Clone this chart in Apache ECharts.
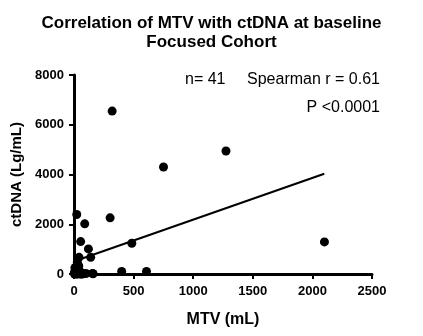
<!DOCTYPE html>
<html>
<head>
<meta charset="utf-8">
<script src="https://cdn.jsdelivr.net/npm/echarts@6/dist/echarts.min.js"></script>
<style>
  html, body { margin: 0; padding: 0; background: #fff; }
  #chart { width: 423px; height: 336px; }
</style>
</head>
<body>
<div id="chart"></div>
<script>
// MTV (mL) vs ctDNA (Lg/mL) per patient
const mtv = [
  320, 751, 1275, 2101, 23, 90, 303, 56, 121, 140, 42, 28, 28, 23, 155,
  400, 608, 485, 100, 160, 5, 10, 15, 20, 30, 35, 40, 45, 50, 55,
  60, 65, 8, 12, 18, 25, 33, 48, 70, 3, 38
];
const ctdna = [
  6550, 4300, 4946, 1291, 2390, 2017, 2259, 1303, 1008, 670, 670, 470, 270, 60, 25,
  105, 105, 1234, 20, 10, 0, 30, 80, 150, 0, 200, 320, 20, 60, 0,
  10, 40, 250, 110, 5, 330, 15, 90, 0, 60, 180
];
// Linear fit end points
const fitX = [15, 2100];
const fitY = [530, 4030];

const xTicks = [0, 500, 1000, 1500, 2000, 2500];
const yTicks = [0, 2000, 4000, 6000, 8000];

const font = 'Liberation Sans, Arial, sans-serif';
const chart = echarts.init(document.getElementById('chart'));

chart.setOption({
  animation: false,
  title: {
    text: 'Correlation of MTV with ctDNA at baseline\nFocused Cohort',
    left: 'center',
    top: 9,
    textStyle: { fontFamily: font, fontWeight: 'bold', fontSize: 17, color: '#000', lineHeight: 19 }
  },
  graphic: [
    { type: 'text', x: 185, y: 72,
      style: { text: 'n= 41', font: '16px ' + font, fill: '#000', textAlign: 'left', textVerticalAlign: 'top' } },
    { type: 'text', x: 380, y: 72,
      style: { text: 'Spearman r = 0.61', font: '16px ' + font, fill: '#000', textAlign: 'right', textVerticalAlign: 'top' } },
    { type: 'text', x: 380, y: 99.5,
      style: { text: 'P <0.0001', font: '16px ' + font, fill: '#000', textAlign: 'right', textVerticalAlign: 'top' } }
  ],
  grid: { left: 74, right: 51, top: 75, bottom: 62, outerBoundsMode: 'none', containLabel: false },
  xAxis: {
    type: 'value', min: xTicks[0], max: xTicks[xTicks.length - 1], interval: 500,
    name: 'MTV (mL)', nameLocation: 'middle', nameGap: 38,
    nameTextStyle: { fontFamily: font, fontWeight: 'bold', fontSize: 16, color: '#000' },
    axisLine: { onZero: false, lineStyle: { color: '#000', width: 3 } },
    axisTick: { length: 5, lineStyle: { color: '#000', width: 2 } },
    axisLabel: { fontFamily: font, fontWeight: 'bold', fontSize: 13, color: '#000', margin: 11,
      formatter: v => String(v) },
    splitLine: { show: false }
  },
  yAxis: {
    type: 'value', min: yTicks[0], max: yTicks[yTicks.length - 1], interval: 2000,
    name: 'ctDNA (Lg/mL)', nameLocation: 'middle', nameGap: 49,
    nameTextStyle: { fontFamily: font, fontWeight: 'bold', fontSize: 15, color: '#000' },
    axisLine: { show: true, onZero: false, lineStyle: { color: '#000', width: 3 } },
    axisTick: { show: true, length: 5, lineStyle: { color: '#000', width: 2 } },
    axisLabel: { fontFamily: font, fontWeight: 'bold', fontSize: 13, color: '#000', margin: 10,
      formatter: v => String(v) },
    splitLine: { show: false }
  },
  series: [
    {
      type: 'scatter',
      data: mtv.map((x, i) => [x, ctdna[i]]),
      symbolSize: 9,
      itemStyle: { color: '#000', opacity: 1 },
      z: 3
    },
    {
      type: 'line',
      data: fitX.map((x, i) => [x, fitY[i]]),
      showSymbol: false,
      lineStyle: { color: '#000', width: 2 },
      z: 2
    }
  ]
});
</script>
</body>
</html>
